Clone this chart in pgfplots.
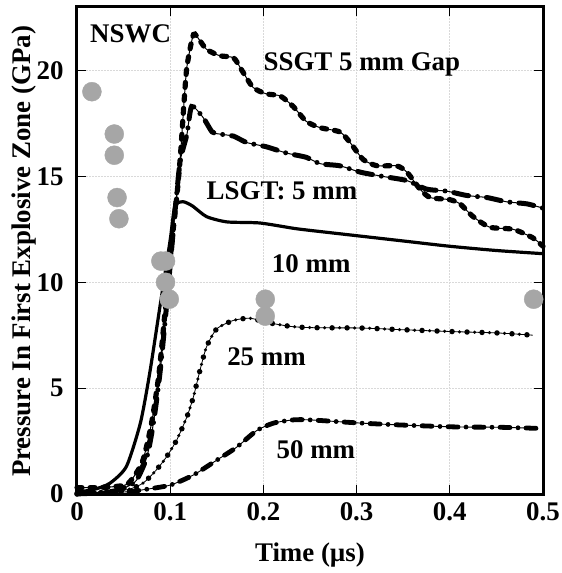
\documentclass[border=0pt]{standalone}
\usepackage{fontspec}
\setmainfont{Liberation Serif}
\usepackage{pgfplots}
\pgfplotsset{compat=1.18}
\definecolor{expt}{HTML}{A6A6A6}
\newcommand{\lbl}{\fontsize{27}{31}\selectfont\bfseries}

% measured curves, time (us) vs pressure (GPa)
\pgfplotstableread{
t p
0 0.3
0.02 0.3
0.04 0.35
0.055 0.5
0.07 1.5
0.08 3.35
0.088 5.7
0.095 8.85
0.102 12.0
0.107 14.0
0.111 16.0
0.115 18.6
0.118 20.2
0.125 21.7
0.132 21.4
0.139 21.0
0.153 20.7
0.168 20.6
0.177 20.0
0.189 19.2
0.203 18.9
0.218 18.8
0.232 18.3
0.246 17.6
0.261 17.3
0.282 17.1
0.293 16.6
0.307 15.8
0.322 15.5
0.343 15.5
0.354 15.2
0.368 14.4
0.379 14.0
0.400 13.9
0.411 13.7
0.425 13.1
0.443 12.6
0.468 12.5
0.489 12.1
0.5 11.7
}\ssgt
\pgfplotstableread{
t p
0 0.05
0.035 0.1
0.053 0.33
0.064 0.66
0.075 1.75
0.082 3.35
0.089 5.7
0.096 8.85
0.103 12.3
0.107 14.2
0.111 15.8
0.118 17.0
0.123 18.3
0.135 17.8
0.145 17.1
0.153 17.0
0.168 16.9
0.182 16.6
0.203 16.4
0.225 16.1
0.246 15.9
0.261 15.6
0.282 15.5
0.304 15.2
0.328 15.0
0.354 14.8
0.375 14.4
0.397 14.3
0.418 14.1
0.440 14.0
0.461 13.8
0.483 13.7
0.5 13.5
}\lsgtfive
\pgfplotstableread{
t p
0 0.1
0.017 0.2
0.035 0.5
0.053 1.3
0.068 3.35
0.078 5.7
0.089 8.85
0.1 12.0
0.105 13.6
0.114 13.8
0.124 13.6
0.139 13.1
0.161 12.85
0.196 12.8
0.232 12.55
0.25 12.45
0.3 12.2
0.35 11.95
0.4 11.7
0.45 11.5
0.5 11.35
}\lsgtten
\pgfplotstableread{
t p
0 0
0.053 0.2
0.071 0.52
0.085 1.13
0.096 1.75
0.107 2.55
0.118 3.65
0.125 4.6
0.132 5.85
0.139 6.95
0.15 7.8
0.168 8.2
0.186 8.3
0.204 8.1
0.232 7.9
0.26 7.85
0.304 7.84
0.354 7.75
0.404 7.67
0.454 7.6
0.489 7.5
}\lsgttf
\pgfplotstableread{
t p
0 0
0.053 0.1
0.071 0.2
0.1 0.42
0.125 0.9
0.15 1.6
0.171 2.2
0.193 3.0
0.211 3.35
0.232 3.5
0.25 3.5
0.304 3.35
0.347 3.26
0.404 3.17
0.454 3.15
0.494 3.1
}\lsgtfifty

\begin{document}
\begin{tikzpicture}
  \begin{axis}[
      scale only axis, width=466bp, height=487bp,
      at={(0,0)}, anchor=south west,
      xmin=0, xmax=0.5, ymin=0, ymax=23,
      xtick={0,0.1,...,0.5}, ytick={0,5,10,15,20},
      /pgf/number format/assume math mode=true,
      tick label style={font=\lbl},
      xticklabel style={yshift=-5bp},
      yticklabel style={xshift=-10bp},
      tick align=inside, major tick length=9bp,
      tick style={black, line width=1bp},
      axis line style={line width=3bp},
      grid=major, grid style={gray!30, line width=0.8bp, dash pattern=on 2bp off 1bp},
      xlabel={Time (µs)}, ylabel={Pressure In First Explosive Zone (GPa)},
      label style={font=\lbl},
      xlabel style={at={(axis description cs:0.5,0)}, anchor=base, yshift=-67bp},
      ylabel style={at={(axis description cs:-0.114,0.498)}, anchor=center},
      clip=false,
      every axis plot/.append style={smooth, tension=0.4, black},
    ]
    % SSGT 5 mm gap
    \addplot[line width=1bp] table {\ssgt};
    \addplot[line width=5.2bp, line cap=round, dash pattern=on 5bp off 8bp] table {\ssgt};
    % LSGT 5 mm
    \addplot[line width=1bp] table {\lsgtfive};
    \addplot[line width=5bp, line cap=round, dash pattern=on 15bp off 9bp on 0bp off 9bp] table {\lsgtfive};
    % LSGT 10 mm
    \addplot[line width=3.2bp] table {\lsgtten};
    % LSGT 25 mm
    \addplot[line width=0.8bp] table {\lsgttf};
    \addplot[line width=5.5bp, line cap=round, dash pattern=on 0bp off 15bp] table {\lsgttf};
    \addplot[line width=3.5bp, line cap=round, dash pattern=on 0bp off 15bp, dash phase=7.5bp] table {\lsgttf};
    % LSGT 50 mm
    \addplot[line width=0.9bp] table {\lsgtfifty};
    \addplot[line width=4.8bp, line cap=round, dash pattern=on 10bp off 8bp on 0bp off 8bp] table {\lsgtfifty};
    % NSWC experiments
    \addplot[only marks, mark=*, mark size=9.5bp, expt, mark options={draw=expt, fill=expt}] coordinates {
      (0.016,19.0) (0.040,17.0) (0.040,16.0) (0.043,14.0) (0.045,13.0)
      (0.090,11.0) (0.095,11.0) (0.095,10.0) (0.099,9.2)
      (0.202,9.2) (0.202,8.4) (0.490,9.2)
    };
    \node[font=\lbl, anchor=base west, inner sep=0] at (axis cs:0.014,21.3) {NSWC};
    \node[font=\lbl, anchor=base west, inner sep=0] at (axis cs:0.2,20.0) {SSGT 5 mm Gap};
    \node[font=\lbl, anchor=base west, inner sep=0] at (axis cs:0.139,13.9) {LSGT: 5 mm};
    \node[font=\lbl, anchor=base west, inner sep=0] at (axis cs:0.209,10.45) {10 mm};
    \node[font=\lbl, anchor=base west, inner sep=0] at (axis cs:0.161,6.05) {25 mm};
    \node[font=\lbl, anchor=base west, inner sep=0] at (axis cs:0.214,1.7) {50 mm};
  \end{axis}
  \pgfresetboundingbox
  \path[use as bounding box] (-77bp,-79bp) rectangle (485bp,494bp);
\end{tikzpicture}
\end{document}
